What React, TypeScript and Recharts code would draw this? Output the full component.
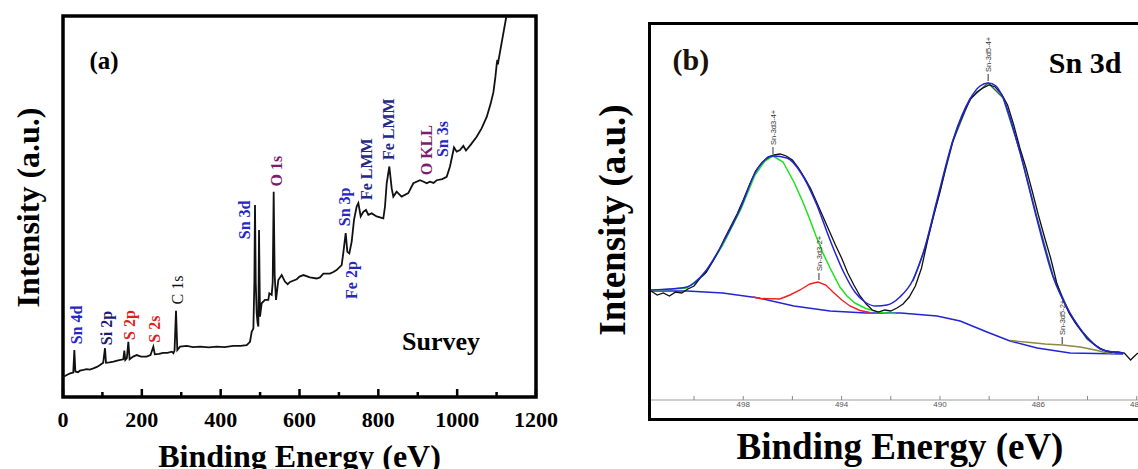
import React from 'react';
import { LineChart, Line, XAxis, YAxis, ReferenceArea, ReferenceDot } from 'recharts';

const SERIF = "'Liberation Serif', 'Times New Roman', serif";
const SANS = "'Liberation Sans', Arial, sans-serif";

// ---- (a) survey: [binding energy (eV), intensity (a.u.)]
const surveySpectrum: [number, number][] = [
  [0, 5.3], [5, 5.5], [12, 5.9], [18, 6.2], [26, 6.4], [28.8, 12.3], [31.3, 6.7], [38, 6.5],
  [43, 6.9], [52, 7.1], [60, 7.3], [68, 7.2], [77, 7.5], [86, 7.9], [94, 8.4], [102, 9.0],
  [106.6, 12.8], [109, 9.0], [118, 9.1], [128, 9.3], [140, 9.6], [153, 9.9], [155.6, 12.2],
  [158, 9.7], [162, 10.2], [165.8, 14.5], [169, 9.9], [178, 10.6], [187, 11.0], [198, 10.6],
  [212, 10.6], [222, 11.0], [229.2, 13.2], [233, 11.2], [244, 11.3], [254, 11.6], [265, 11.6],
  [276, 11.9], [280, 11.5], [283, 12.2], [286.7, 22.6], [290, 12.3], [297, 13.2], [314, 13.4],
  [330, 13.1], [348, 13.2], [370, 13.0], [390, 13.2], [410, 13.1], [432, 13.4], [450, 13.4],
  [466, 13.6], [474.5, 14.5], [478.7, 17.1], [483, 18.0], [485.5, 30], [487.1, 50.4], [489, 30],
  [491.4, 22.0], [493.5, 19.5], [495.6, 18.5], [497.3, 43.8], [499.8, 21.1], [504, 24.6],
  [512.5, 25.5], [520.9, 25.5], [523.5, 27.2], [529.4, 26.8], [532, 30], [534.5, 53.9], [537, 32],
  [540.4, 25.5], [546.3, 30.7], [554.8, 32.0], [563, 30.3], [570, 29.6], [576, 30.2], [593, 30.9],
  [600, 31.6], [610, 32.0], [626.6, 31.4], [643.6, 31.1], [652, 31.4], [660.5, 32.4], [677, 32.4],
  [686, 32.8], [694, 33.3], [707, 34.6], [711, 37.7], [717.2, 43.0], [721.4, 38.1], [726.4, 37.7],
  [732.4, 40.8], [738.3, 46.5], [745, 50.0], [749.3, 50.9], [755.2, 47.4], [761.9, 48.6],
  [768.7, 49.1], [774.6, 47.8], [783.2, 48.2], [795.8, 47.4], [812.7, 46.9], [816.9, 50.0],
  [821.2, 56.1], [827.9, 60.5], [833.8, 54.8], [838, 52.6], [846.5, 53.9], [859, 52.6],
  [876, 53.5], [888.8, 56.1], [905.7, 56.9], [915, 56.5], [922.7, 56.1], [931, 56.5], [940, 56.2],
  [948, 56.9], [962, 57.2], [973.4, 57.8], [981.8, 60.5], [992, 65.5], [998.8, 64.4],
  [1007.2, 64.8], [1015.6, 65.9], [1022.4, 64.7], [1035, 66.3], [1049.5, 68.3], [1062, 70.5],
  [1075, 73.5], [1085, 77.0], [1092, 80.0], [1097, 84.0], [1100.5, 87.5], [1102, 88.5],
  [1103.5, 87.3], [1105, 88.4], [1125, 100],
];

const surveyTicks = [0, 100, 200, 300, 400, 500, 600, 700, 800, 900, 1000, 1100, 1200];
const surveyTickLabels = [0, 200, 400, 600, 800, 1000, 1200];

const SN = '#2626c2';
const FE = '#1f2a86';
const SI = '#1b1b72';
const OX = '#7a1d6c';
const SU = '#e01c1c';

const surveyPeaks = [
  { name: 'Sn 4d', e: 34.8, i: 18.9, color: SN, bold: true },
  { name: 'Si 2p', e: 110.9, i: 18.1, color: SI, bold: true },
  { name: 'S 2p', e: 170, i: 18.9, color: SU, bold: true },
  { name: 'S 2s', e: 233.4, i: 17.8, color: SU, bold: true },
  { name: 'C 1s', e: 291.8, i: 28.1, color: '#111', bold: false },
  { name: 'Sn 3d', e: 461.7, i: 46.5, color: SN, bold: true },
  { name: 'O 1s', e: 542.2, i: 59.3, color: OX, bold: true },
  { name: 'Sn 3p', e: 715.4, i: 49.9, color: SN, bold: true },
  { name: 'Fe 2p', e: 732.4, i: 30.7, color: SN, bold: true },
  { name: 'Fe LMM', e: 770.5, i: 59.8, color: FE, bold: true },
  { name: 'Fe LMM', e: 827, i: 70.3, color: FE, bold: true },
  { name: 'O KLL', e: 922.7, i: 64.8, color: OX, bold: true },
  { name: 'Sn 3s', e: 964, i: 67.7, color: SN, bold: true },
];

// ---- (b) Sn 3d high resolution: [binding energy (eV), counts (a.u.)]
const sn3dRaw: [number, number][] = [
  [501.75, 10.9], [501.5, 10.5], [501.25, 10.7], [501.0, 10.4], [500.75, 10.8], [500.5, 10.7],
  [500.25, 11.1], [500.0, 11.4], [499.75, 12.2], [499.5, 12.8], [499.25, 13.8], [499.0, 14.9],
  [498.75, 16.2], [498.5, 17.4], [498.25, 18.6], [498.0, 20.0], [497.75, 21.5], [497.5, 22.9],
  [497.25, 23.7], [497.0, 24.3], [496.75, 24.5], [496.5, 24.6], [496.25, 24.4], [496.0, 24.0],
  [495.75, 23.2], [495.5, 22.2], [495.25, 21.1], [495.0, 19.7], [494.75, 18.3], [494.5, 16.9],
  [494.25, 15.5], [494.0, 14.2], [493.75, 12.7], [493.5, 11.5], [493.25, 10.4], [493.0, 9.6],
  [492.75, 9.0], [492.5, 8.8], [492.25, 9.0], [492.0, 8.9], [491.75, 9.2], [491.5, 9.6],
  [491.25, 10.3], [491.0, 11.4], [490.75, 13.2], [490.5, 16.0], [490.25, 18.5], [490.0, 20.8],
  [489.75, 23.4], [489.5, 25.7], [489.25, 27.5], [489.0, 28.9], [488.75, 30.1], [488.5, 30.8],
  [488.25, 31.2], [488.0, 31.5], [487.75, 31.3], [487.5, 30.6], [487.25, 29.5], [487.0, 27.5],
  [486.75, 25.2], [486.5, 23.2], [486.25, 20.9], [486.0, 18.5], [485.75, 16.3], [485.5, 14.2],
  [485.25, 11.7], [485.0, 10.0], [484.75, 8.7], [484.5, 7.7], [484.25, 6.9], [484.0, 6.2],
  [483.75, 5.6], [483.5, 5.2], [483.25, 4.9], [483.0, 4.8], [482.75, 4.8], [482.5, 4.7],
  [482.25, 4.0], [482.0, 4.6], [481.75, 5.0],
];

const sn3dEnvelope: [number, number][] = [
  [501.76, 11.0], [500.98, 11.1], [500.29, 11.3], [499.56, 12.8], [498.83, 15.7], [498.09, 19.3],
  [497.52, 22.7], [497.12, 24.0], [496.79, 24.4], [496.22, 24.2], [495.65, 22.7], [495.04, 19.7],
  [494.47, 16.0], [493.9, 12.7], [493.46, 10.8], [493.05, 9.8], [492.6, 9.4], [492.15, 9.5],
  [491.63, 10.3], [491.1, 12.0], [490.61, 15.3], [490.12, 20.0], [489.47, 26.0], [488.78, 30.1],
  [488.37, 31.4], [488.04, 31.7], [487.72, 31.4], [487.43, 30.2], [486.74, 24.7], [486.05, 18.0],
  [485.4, 12.3], [484.71, 8.7], [484.02, 6.3], [483.37, 5.0], [482.55, 4.7],
];

const sn3dBackground: [number, number][] = [
  [501.76, 10.9], [500.29, 10.9], [498.83, 10.7], [497.36, 10.2], [495.94, 9.4], [494.47, 8.9],
  [493.01, 8.7], [491.59, 8.7], [490.12, 8.4], [489.18, 7.9], [488.09, 6.8], [487.15, 5.9],
  [486.05, 5.2], [484.71, 4.7], [482.55, 4.6],
];

const sn3d32Sn4: [number, number][] = [
  [501.76, 10.95], [500.29, 11.2], [499.56, 12.6], [498.83, 15.5], [498.09, 19.1], [497.52, 22.5],
  [497.12, 23.9], [496.79, 24.4], [496.38, 23.8], [495.94, 21.8], [495.61, 20.0], [495.33, 18.3],
  [495.04, 16.4], [494.76, 14.7], [494.47, 13.2], [494.07, 11.3], [493.78, 10.4], [493.46, 9.7],
  [493.01, 9.15], [492.6, 8.85], [492.2, 8.7], [491.79, 8.65],
];

const sn3d32Sn2: [number, number][] = [
  [497.6, 10.3], [497.32, 10.15], [496.51, 10.1], [496.1, 10.5], [495.69, 11.0], [495.29, 11.6],
  [494.96, 11.8], [494.64, 11.5], [494.35, 10.8], [493.99, 10.0], [493.66, 9.4], [493.25, 8.95],
  [492.85, 8.75],
];

const sn3d52Sn4: [number, number][] = [
  [491.1, 11.9], [490.61, 15.1], [490.12, 19.8], [489.47, 25.9], [488.78, 30.1], [488.04, 31.7],
  [487.43, 30.2], [486.74, 24.8], [486.05, 18.2], [485.4, 12.4], [484.71, 8.6], [484.02, 6.1],
  [483.49, 5.1], [483.0, 4.7],
];

const sn3d52Sn2: [number, number][] = [
  [487.15, 5.95], [486.33, 5.75], [485.73, 5.6], [485.03, 5.5], [484.3, 5.3], [483.69, 5.0],
  [483.28, 4.75], [482.87, 4.6],
];

const sn3dTicks = [500, 498, 496, 494, 492, 490, 488, 486, 484, 482];
const sn3dTickLabels = [498, 494, 490, 486, 482];

const sn3dTags = [
  { name: 'Sn-3d3-4+', e: 496.79, i: 24.5 },
  { name: 'Sn-3d3-2+', e: 494.92, i: 11.9 },
  { name: 'Sn-3d5-4+', e: 488.04, i: 31.8 },
  { name: 'Sn-3d5-2+', e: 485.03, i: 5.5 },
];

const toRows = (pts: [number, number][]) => pts.map(([e, i]) => ({ e, i }));

const VText = ({ cx, cy, text, color, size, bold, family = SERIF }: any) => (
  <text
    x={cx}
    y={cy}
    transform={`rotate(-90 ${cx} ${cy})`}
    textAnchor="middle"
    dy="0.33em"
    fill={color}
    fontSize={size}
    fontWeight={bold ? 'bold' : 'normal'}
    fontFamily={family}
  >
    {text}
  </text>
);

const HText = ({ cx, cy, text, color = '#000', size, dy = '0.33em' }: any) => (
  <text x={cx} y={cy} textAnchor="middle" dy={dy} fill={color} fontSize={size} fontWeight="bold" fontFamily={SERIF}>
    {text}
  </text>
);

const SurveyTick = (props: any) => {
  const { x, y, payload } = props;
  const major = surveyTickLabels.includes(payload.value);
  return (
    <g>
      <line x1={x} y1={y} x2={x} y2={y - (major ? 8 : 5)} stroke="#000" strokeWidth={2.5} />
      {major && (
        <text x={x} y={y + 30} textAnchor="middle" fontSize={22} fontWeight="bold" fontFamily={SERIF} fill="#000">
          {payload.value}
        </text>
      )}
    </g>
  );
};

const Sn3dTick = (props: any) => {
  const { x, y, payload } = props;
  const show = sn3dTickLabels.includes(payload.value);
  return (
    <g>
      <line x1={x} y1={y} x2={x} y2={y - 4} stroke="#8a8a8a" strokeWidth={1} />
      {show && (
        <text x={x} y={y + 7} textAnchor="middle" fontSize={8} fontFamily={SANS} fill="#555">
          {payload.value}
        </text>
      )}
    </g>
  );
};

const PeakTag = ({ cx, cy, text }: any) => (
  <g>
    <line x1={cx} y1={cy - 1} x2={cx} y2={cy - 8} stroke="#333" strokeWidth={1} />
    <text
      x={cx}
      y={cy - 10}
      transform={`rotate(-90 ${cx} ${cy - 10})`}
      textAnchor="start"
      dy="0.35em"
      fontSize={7.5}
      fontFamily={SANS}
      fill="#333"
    >
      {text}
    </text>
  </g>
);

function SurveyChart() {
  return (
    <LineChart width={560} height={469} data={toRows(surveySpectrum)} margin={{ top: 16, right: 24, left: 0, bottom: 0 }}>
      <XAxis
        dataKey="e"
        type="number"
        domain={[0, 1200]}
        ticks={surveyTicks}
        interval={0}
        axisLine={false}
        tickLine={false}
        tickSize={0}
        tickMargin={0}
        height={72}
        tick={SurveyTick}
        label={{
          content: (p: any) => (
            <text x={p.viewBox.x + p.viewBox.width / 2} y={p.viewBox.y + 70} textAnchor="middle" fontSize={32} fontWeight="bold" fontFamily={SERIF} fill="#000">
              Binding Energy (eV)
            </text>
          ),
        }}
      />
      <YAxis
        type="number"
        domain={[0, 100]}
        width={63}
        axisLine={false}
        tickLine={false}
        tick={false}
        label={{
          content: (p: any) => (
            <VText cx={p.viewBox.x + 28} cy={p.viewBox.y + p.viewBox.height / 2 + 1} text="Intensity (a.u.)" color="#000" size={32} bold />
          ),
        }}
      />
      <Line dataKey="i" stroke="#111" strokeWidth={1.8} dot={false} isAnimationActive={false} />
      <ReferenceArea x1={0} x2={1200} y1={0} y2={100} fill="none" stroke="#000" strokeWidth={3.5} ifOverflow="visible" />
      {surveyPeaks.map((p, k) => (
        <ReferenceDot
          key={`pk-${k}`}
          x={p.e}
          y={p.i}
          r={1}
          shape={(s: any) => <VText cx={s.cx} cy={s.cy} text={p.name} color={p.color} size={16} bold={p.bold} />}
        />
      ))}
      <ReferenceDot x={104} y={87.9} r={1} shape={(s: any) => <HText cx={s.cx} cy={s.cy} text="(a)" size={25} dy="0.26em" />} />
      <ReferenceDot x={959} y={13.9} r={1} shape={(s: any) => <HText cx={s.cx} cy={s.cy} text="Survey" size={26} dy="0.22em" />} />
    </LineChart>
  );
}

function Sn3dChart() {
  return (
    <LineChart width={569} height={469} margin={{ top: 24.5, right: 0, left: 0, bottom: 0 }}>
      <XAxis
        dataKey="e"
        type="number"
        domain={[481.5, 501.75]}
        reversed
        allowDataOverflow
        ticks={sn3dTicks}
        interval={0}
        axisLine={{ stroke: '#9b9b9b', strokeWidth: 1 }}
        tickLine={false}
        tickSize={0}
        tickMargin={0}
        height={69}
        tick={Sn3dTick}
        label={{
          content: (p: any) => (
            <text x={p.viewBox.x + p.viewBox.width / 2} y={p.viewBox.y + 59} textAnchor="middle" fontSize={37} fontWeight="bold" fontFamily={SERIF} fill="#000">
              Binding Energy (eV)
            </text>
          ),
        }}
      />
      <YAxis
        type="number"
        domain={[0, 37.55]}
        allowDataOverflow
        width={71}
        axisLine={false}
        tickLine={false}
        tick={false}
        label={{
          content: (p: any) => (
            <VText cx={p.viewBox.x + 33} cy={220} text="Intensity (a.u.)" color="#000" size={37} bold />
          ),
        }}
      />
      <Line data={toRows(sn3dBackground)} dataKey="i" stroke="#2323d8" strokeWidth={1.5} dot={false} isAnimationActive={false} />
      <Line data={toRows(sn3d32Sn2)} dataKey="i" stroke="#ee2020" strokeWidth={1.4} dot={false} isAnimationActive={false} />
      <Line data={toRows(sn3d52Sn2)} dataKey="i" stroke="#8c8a3c" strokeWidth={1.4} dot={false} isAnimationActive={false} />
      <Line data={toRows(sn3d32Sn4)} dataKey="i" stroke="#1fe01f" strokeWidth={1.5} dot={false} isAnimationActive={false} />
      <Line data={toRows(sn3d52Sn4)} dataKey="i" stroke="#2a6e58" strokeWidth={1.5} dot={false} isAnimationActive={false} />
      <Line data={toRows(sn3dRaw)} dataKey="i" stroke="#111" strokeWidth={1.3} dot={false} isAnimationActive={false} />
      <Line data={toRows(sn3dEnvelope)} dataKey="i" type="monotone" stroke="#2323d8" strokeWidth={1.5} dot={false} isAnimationActive={false} />
      {sn3dTags.map((t, k) => (
        <ReferenceDot key={`tag-${k}`} x={t.e} y={t.i} r={1} shape={(s: any) => <PeakTag cx={s.cx} cy={s.cy} text={t.name} />} />
      ))}
      <ReferenceDot x={500.13} y={33.8} r={1} shape={(s: any) => <HText cx={s.cx} cy={s.cy} text="(b)" size={30} color="#1a1208" dy="0.26em" />} />
      <ReferenceDot x={484.1} y={33.7} r={1} shape={(s: any) => <HText cx={s.cx} cy={s.cy} text="Sn 3d" size={30} />} />
    </LineChart>
  );
}

export default function App() {
  return (
    <div style={{ position: 'fixed', left: 0, top: 0, width: 1138, height: 469, overflow: 'hidden', background: '#fff' }}>
      <div style={{ position: 'absolute', left: 0, top: 0 }}>
        <SurveyChart />
      </div>
      <div style={{ position: 'absolute', left: 580, top: 0 }}>
        <Sn3dChart />
      </div>
      {/* frame of panel (b), runs past the right edge */}
      <div
        style={{
          position: 'absolute',
          left: 648,
          top: 22,
          width: 520,
          height: 399,
          border: '3px solid #000',
          boxSizing: 'border-box',
          pointerEvents: 'none',
        }}
      />
    </div>
  );
}
